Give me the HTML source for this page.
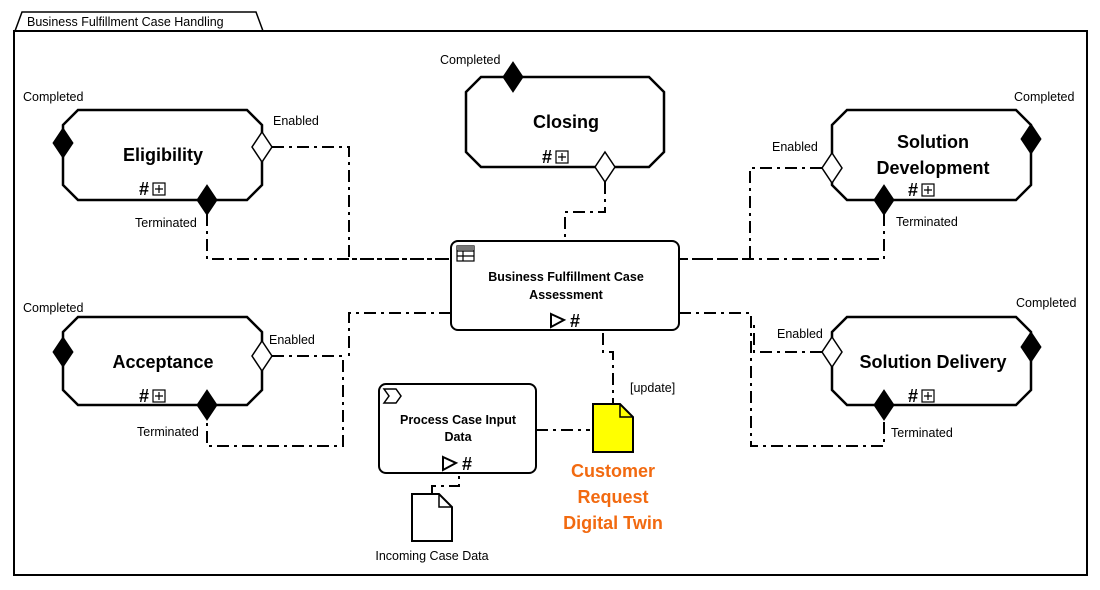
<!DOCTYPE html>
<html><head><meta charset="utf-8"><style>
html,body{margin:0;padding:0;background:#fff;}
svg{display:block;font-family:"Liberation Sans",Arial,sans-serif;}
</style></head><body>
<svg width="1100" height="590" viewBox="0 0 1100 590" xmlns="http://www.w3.org/2000/svg">
<defs>
<g id="ic"><text x="0" y="0" font-size="18" font-weight="bold" text-anchor="middle">#</text><rect x="9" y="-12" width="12" height="12" fill="#fff" stroke="#000" stroke-width="1.2"/><path d="M15,-10V-2M11,-6H19" stroke="#000" stroke-width="1.2"/></g>
</defs>
<!-- frame -->
<path d="M15,31 L22,12 H256 L263,31" fill="none" stroke="#000" stroke-width="1.5"/>
<rect x="14" y="31" width="1073" height="544" fill="none" stroke="#000" stroke-width="2"/>
<text x="27" y="26" font-size="12.5">Business Fulfillment Case Handling</text>

<!-- connectors -->
<g fill="none" stroke="#000" stroke-width="2" stroke-dasharray="12,5,3,5">
<path d="M272,147H349V259H451"/>
<path d="M207,214V259H451"/>
<path d="M605,182V212H565V241"/>
<path d="M822,168H750V259H679"/>
<path d="M884,214V259H679"/>
<path d="M451,313H349V356"/>
<path d="M272,356H343V446H207V419"/>
<path d="M679,313H751V446H884V419"/>
<path d="M822,352H754V320"/>
<path d="M603,333V352H613V404"/>
<path d="M536,430H590"/>
<path d="M432,494V486H459V474"/>
</g>

<!-- octagons -->
<g fill="#fff" stroke="#000" stroke-width="2.5">
<path d="M78,110H247L262,125V185L247,200H78L63,185V125Z"/>
<path d="M481,77H649L664,92V152L649,167H481L466,152V92Z"/>
<path d="M847,110H1016L1031,125V185L1016,200H847L832,185V125Z"/>
<path d="M78,317H247L262,332V390L247,405H78L63,390V332Z"/>
<path d="M847,317H1016L1031,332V390L1016,405H847L832,390V332Z"/>
</g>
<g font-size="18" font-weight="bold" text-anchor="middle">
<text x="163" y="161">Eligibility</text>
<text x="566" y="128">Closing</text>
<text x="933" y="148">Solution</text>
<text x="933" y="174">Development</text>
<text x="163" y="368">Acceptance</text>
<text x="933" y="368">Solution Delivery</text>
</g>
<use href="#ic" x="144" y="195"/>
<use href="#ic" x="547" y="163"/>
<use href="#ic" x="913" y="196"/>
<use href="#ic" x="144" y="402"/>
<use href="#ic" x="913" y="402"/>

<!-- diamonds filled -->
<g fill="#000" stroke="#000" stroke-width="1">
<polygon points="63,128 73,143 63,158 53,143"/>
<polygon points="207,185 217,200 207,215 197,200"/>
<polygon points="513,62 523,77 513,92 503,77"/>
<polygon points="1031,124 1041,139 1031,154 1021,139"/>
<polygon points="884,185 894,200 884,215 874,200"/>
<polygon points="63,337 73,352 63,367 53,352"/>
<polygon points="207,390 217,405 207,420 197,405"/>
<polygon points="1031,332 1041,347 1031,362 1021,347"/>
<polygon points="884,390 894,405 884,420 874,405"/>
</g>
<g fill="#fff" stroke="#000" stroke-width="1.5">
<polygon points="262,132 272,147 262,162 252,147"/>
<polygon points="605,152 615,167 605,182 595,167"/>
<polygon points="832,153 842,168 832,183 822,168"/>
<polygon points="262,341 272,356 262,371 252,356"/>
<polygon points="832,337 842,352 832,367 822,352"/>
</g>

<g font-size="12.5">
<text x="23" y="101">Completed</text>
<text x="273" y="125">Enabled</text>
<text x="135" y="227">Terminated</text>
<text x="440" y="64">Completed</text>
<text x="1014" y="101">Completed</text>
<text x="772" y="151">Enabled</text>
<text x="896" y="226">Terminated</text>
<text x="23" y="312">Completed</text>
<text x="269" y="344">Enabled</text>
<text x="137" y="436">Terminated</text>
<text x="1016" y="307">Completed</text>
<text x="777" y="338">Enabled</text>
<text x="891" y="437">Terminated</text>
<text x="630" y="392">[update]</text>
<text x="432" y="560" text-anchor="middle">Incoming Case Data</text>
</g>

<!-- central -->
<rect x="451" y="241" width="228" height="89" rx="7" fill="#fff" stroke="#000" stroke-width="2"/>
<g stroke="#000" stroke-width="1.2" fill="none"><rect x="457" y="246" width="17" height="15"/><path d="M457,251H474M457,256H474M463,251V261"/></g>
<rect x="457" y="246" width="17" height="4" fill="#777"/>
<polygon points="551,314 564,320 551,327" fill="none" stroke="#000" stroke-width="2"/>
<text x="575" y="327" font-size="18" font-weight="bold" text-anchor="middle">#</text>

<!-- process -->
<rect x="379" y="384" width="157" height="89" rx="7" fill="#fff" stroke="#000" stroke-width="2"/>
<path d="M384,389H396L401,396L396,403H384L389,396Z" fill="none" stroke="#000" stroke-width="1.5"/>
<polygon points="443,457 456,463 443,470" fill="none" stroke="#000" stroke-width="2"/>
<text x="467" y="470" font-size="18" font-weight="bold" text-anchor="middle">#</text>

<g font-size="12.5" font-weight="bold" text-anchor="middle">
<text x="566" y="281">Business Fulfillment Case</text>
<text x="566" y="299">Assessment</text>
<text x="458" y="424">Process Case Input</text>
<text x="458" y="441">Data</text>
</g>

<!-- docs -->
<path d="M593,404H620L633,417V452H593Z" fill="#ffff00" stroke="#000" stroke-width="2"/>
<path d="M620,404V417H633" fill="none" stroke="#000" stroke-width="1.5"/>
<path d="M412,494H439L452,507V541H412Z" fill="#fff" stroke="#000" stroke-width="2"/>
<path d="M439,494V507H452" fill="none" stroke="#000" stroke-width="1.5"/>
<g font-size="18" font-weight="bold" fill="#f26a10" text-anchor="middle">
<text x="613" y="477">Customer</text>
<text x="613" y="503">Request</text>
<text x="613" y="529">Digital Twin</text>
</g>
</svg>
</body></html>
